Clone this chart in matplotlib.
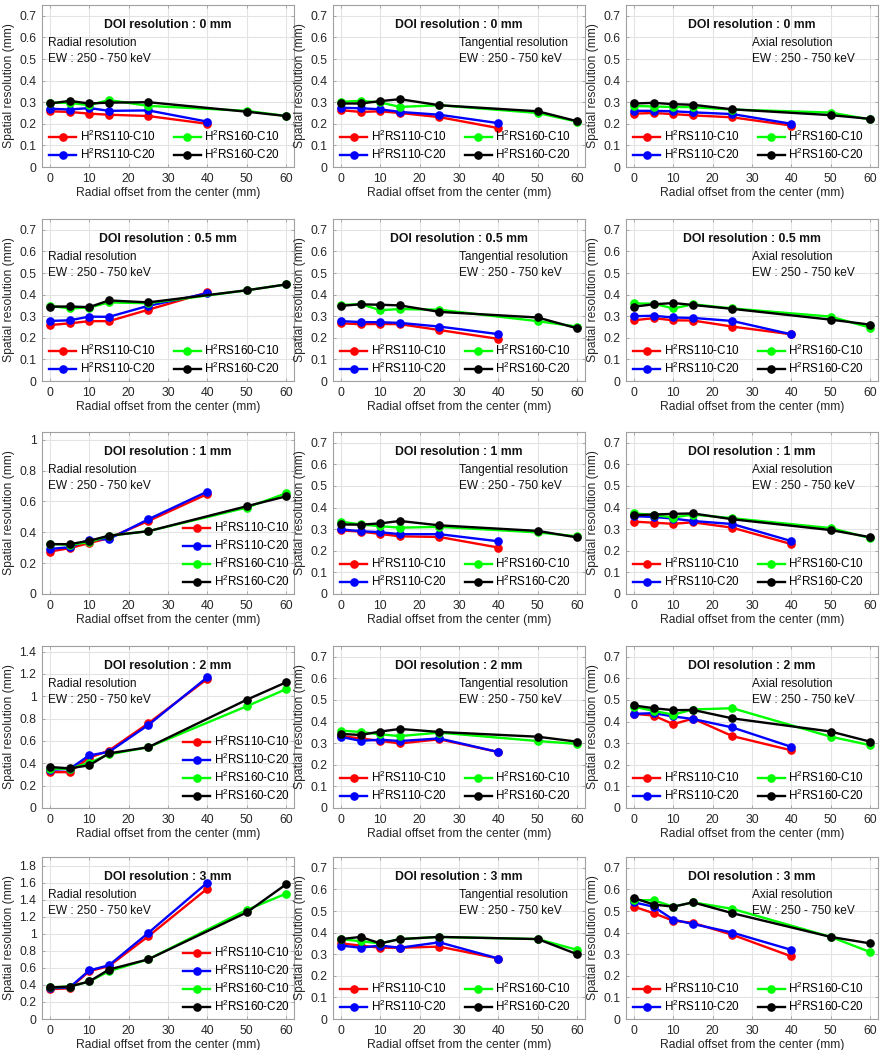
import matplotlib
matplotlib.use("Agg")
import matplotlib.pyplot as plt

plt.rcParams['font.family'] = ['Liberation Sans', 'DejaVu Sans']
plt.rcParams['mathtext.fontset'] = 'custom'
plt.rcParams['mathtext.rm'] = 'Liberation Sans'
plt.rcParams['mathtext.it'] = 'Liberation Sans:italic'
plt.rcParams['mathtext.bf'] = 'Liberation Sans:bold'

# ---------------- data ----------------
x_h110 = [0, 5, 10, 15, 25, 40]
x_h160 = [0, 5, 10, 15, 25, 50, 60]
series_labels = [r'H$^2$RS110-C10', r'H$^2$RS110-C20', r'H$^2$RS160-C10', r'H$^2$RS160-C20']
doi_values = ['0', '0.5', '1', '2', '3']
res_names = ['Radial', 'Tangential', 'Axial']

# DOI 0 mm
rad_d0_110c10 = [0.258, 0.255, 0.247, 0.242, 0.236, 0.200]
rad_d0_110c20 = [0.270, 0.266, 0.273, 0.260, 0.262, 0.210]
rad_d0_160c10 = [0.298, 0.297, 0.286, 0.310, 0.283, 0.260, 0.236]
rad_d0_160c20 = [0.294, 0.306, 0.294, 0.298, 0.300, 0.256, 0.236]
tan_d0_110c10 = [0.263, 0.255, 0.258, 0.250, 0.231, 0.180]
tan_d0_110c20 = [0.274, 0.272, 0.267, 0.255, 0.242, 0.203]
tan_d0_160c10 = [0.302, 0.306, 0.299, 0.278, 0.286, 0.250, 0.210]
tan_d0_160c20 = [0.294, 0.294, 0.305, 0.314, 0.286, 0.258, 0.212]
axi_d0_110c10 = [0.247, 0.250, 0.245, 0.239, 0.230, 0.192]
axi_d0_110c20 = [0.260, 0.260, 0.258, 0.253, 0.245, 0.200]
axi_d0_160c10 = [0.283, 0.280, 0.278, 0.277, 0.266, 0.252, 0.220]
axi_d0_160c20 = [0.294, 0.297, 0.291, 0.288, 0.267, 0.240, 0.223]

# DOI 0.5 mm
rad_d05_110c10 = [0.259, 0.267, 0.277, 0.277, 0.330, 0.410]
rad_d05_110c20 = [0.278, 0.281, 0.298, 0.297, 0.348, 0.406]
rad_d05_160c10 = [0.348, 0.336, 0.340, 0.364, 0.360, 0.420, 0.447]
rad_d05_160c20 = [0.344, 0.345, 0.342, 0.373, 0.364, 0.420, 0.447]
tan_d05_110c10 = [0.267, 0.263, 0.264, 0.263, 0.236, 0.195]
tan_d05_110c20 = [0.277, 0.273, 0.272, 0.269, 0.252, 0.217]
tan_d05_160c10 = [0.352, 0.356, 0.328, 0.333, 0.330, 0.277, 0.252]
tan_d05_160c20 = [0.348, 0.355, 0.353, 0.350, 0.320, 0.294, 0.244]
axi_d05_110c10 = [0.281, 0.291, 0.281, 0.280, 0.252, 0.216]
axi_d05_110c20 = [0.300, 0.302, 0.294, 0.292, 0.278, 0.216]
axi_d05_160c10 = [0.359, 0.358, 0.336, 0.355, 0.336, 0.298, 0.247]
axi_d05_160c20 = [0.344, 0.355, 0.361, 0.352, 0.334, 0.284, 0.261]

# DOI 1 mm
rad_d1_110c10 = [0.275, 0.297, 0.330, 0.363, 0.473, 0.648]
rad_d1_110c20 = [0.292, 0.303, 0.352, 0.356, 0.484, 0.664]
rad_d1_160c10 = [0.325, 0.319, 0.336, 0.378, 0.407, 0.560, 0.653]
rad_d1_160c20 = [0.323, 0.323, 0.345, 0.378, 0.407, 0.569, 0.633]
tan_d1_110c10 = [0.294, 0.289, 0.278, 0.267, 0.264, 0.215]
tan_d1_110c20 = [0.299, 0.291, 0.286, 0.277, 0.277, 0.244]
tan_d1_160c10 = [0.335, 0.322, 0.314, 0.307, 0.311, 0.285, 0.267]
tan_d1_160c20 = [0.322, 0.321, 0.327, 0.338, 0.318, 0.292, 0.262]
axi_d1_110c10 = [0.335, 0.330, 0.325, 0.332, 0.307, 0.231]
axi_d1_110c20 = [0.360, 0.357, 0.349, 0.338, 0.324, 0.245]
axi_d1_160c10 = [0.373, 0.366, 0.354, 0.368, 0.351, 0.305, 0.259]
axi_d1_160c20 = [0.365, 0.368, 0.371, 0.373, 0.346, 0.296, 0.263]

# DOI 2 mm
rad_d2_110c10 = [0.321, 0.321, 0.450, 0.514, 0.758, 1.156]
rad_d2_110c20 = [0.342, 0.349, 0.471, 0.502, 0.743, 1.171]
rad_d2_160c10 = [0.352, 0.352, 0.404, 0.480, 0.544, 0.911, 1.064]
rad_d2_160c20 = [0.367, 0.355, 0.382, 0.489, 0.544, 0.969, 1.125]
tan_d2_110c10 = [0.333, 0.322, 0.311, 0.299, 0.318, 0.259]
tan_d2_110c20 = [0.329, 0.311, 0.316, 0.310, 0.322, 0.259]
tan_d2_160c10 = [0.358, 0.352, 0.341, 0.333, 0.349, 0.310, 0.297]
tan_d2_160c20 = [0.343, 0.338, 0.354, 0.366, 0.352, 0.330, 0.307]
axi_d2_110c10 = [0.436, 0.428, 0.388, 0.414, 0.333, 0.267]
axi_d2_110c20 = [0.436, 0.439, 0.424, 0.412, 0.373, 0.283]
axi_d2_160c10 = [0.469, 0.450, 0.432, 0.456, 0.462, 0.330, 0.291]
axi_d2_160c20 = [0.475, 0.462, 0.453, 0.454, 0.415, 0.354, 0.307]

# DOI 3 mm
rad_d3_110c10 = [0.35, 0.36, 0.56, 0.62, 0.97, 1.53]
rad_d3_110c20 = [0.36, 0.37, 0.57, 0.63, 1.01, 1.60]
rad_d3_160c10 = [0.37, 0.38, 0.44, 0.56, 0.70, 1.28, 1.47]
rad_d3_160c20 = [0.37, 0.38, 0.44, 0.58, 0.70, 1.25, 1.58]
tan_d3_110c10 = [0.35, 0.34, 0.33, 0.33, 0.335, 0.28]
tan_d3_110c20 = [0.34, 0.33, 0.34, 0.33, 0.355, 0.28]
tan_d3_160c10 = [0.37, 0.36, 0.35, 0.37, 0.38, 0.37, 0.32]
tan_d3_160c20 = [0.37, 0.38, 0.35, 0.37, 0.38, 0.37, 0.30]
axi_d3_110c10 = [0.52, 0.49, 0.455, 0.445, 0.39, 0.29]
axi_d3_110c20 = [0.54, 0.52, 0.46, 0.44, 0.40, 0.32]
axi_d3_160c10 = [0.55, 0.55, 0.52, 0.54, 0.51, 0.38, 0.31]
axi_d3_160c20 = [0.56, 0.53, 0.52, 0.54, 0.49, 0.38, 0.35]

grid_values = [
    [[rad_d0_110c10, rad_d0_110c20, rad_d0_160c10, rad_d0_160c20],
     [tan_d0_110c10, tan_d0_110c20, tan_d0_160c10, tan_d0_160c20],
     [axi_d0_110c10, axi_d0_110c20, axi_d0_160c10, axi_d0_160c20]],
    [[rad_d05_110c10, rad_d05_110c20, rad_d05_160c10, rad_d05_160c20],
     [tan_d05_110c10, tan_d05_110c20, tan_d05_160c10, tan_d05_160c20],
     [axi_d05_110c10, axi_d05_110c20, axi_d05_160c10, axi_d05_160c20]],
    [[rad_d1_110c10, rad_d1_110c20, rad_d1_160c10, rad_d1_160c20],
     [tan_d1_110c10, tan_d1_110c20, tan_d1_160c10, tan_d1_160c20],
     [axi_d1_110c10, axi_d1_110c20, axi_d1_160c10, axi_d1_160c20]],
    [[rad_d2_110c10, rad_d2_110c20, rad_d2_160c10, rad_d2_160c20],
     [tan_d2_110c10, tan_d2_110c20, tan_d2_160c10, tan_d2_160c20],
     [axi_d2_110c10, axi_d2_110c20, axi_d2_160c10, axi_d2_160c20]],
    [[rad_d3_110c10, rad_d3_110c20, rad_d3_160c10, rad_d3_160c20],
     [tan_d3_110c10, tan_d3_110c20, tan_d3_160c10, tan_d3_160c20],
     [axi_d3_110c10, axi_d3_110c20, axi_d3_160c10, axi_d3_160c20]],
]

# ---------------- style ----------------
colors = ['#ff0000', '#0000ff', '#00ff00', '#000000']
x_series = [x_h110, x_h110, x_h160, x_h160]

W, H = 885, 1050
fig = plt.figure(figsize=(W / 100, H / 100), dpi=100)

col_left = [42, 333, 626]
ax_w = 252
row_top = [5, 219, 432, 646, 857]
ax_h = 162


def ylims(r, c):
    if c == 0 and r == 2:
        return 1.05, [0, 0.2, 0.4, 0.6, 0.8, 1.0], ['0', '0.2', '0.4', '0.6', '0.8', '1']
    if c == 0 and r == 3:
        return 1.45, [0, 0.2, 0.4, 0.6, 0.8, 1.0, 1.2, 1.4], ['0', '0.2', '0.4', '0.6', '0.8', '1', '1.2', '1.4']
    if c == 0 and r == 4:
        return 1.9, [0, 0.2, 0.4, 0.6, 0.8, 1.0, 1.2, 1.4, 1.6, 1.8], ['0', '0.2', '0.4', '0.6', '0.8', '1', '1.2', '1.4', '1.6', '1.8']
    t = [0, 0.1, 0.2, 0.3, 0.4, 0.5, 0.6, 0.7]
    return 0.75, t, ['0', '0.1', '0.2', '0.3', '0.4', '0.5', '0.6', '0.7']


tick_color = '#262626'
spine_color = '#a0a0a0'

for r in range(5):
    for c in range(3):
        left = col_left[c] / W
        bottom = 1 - (row_top[r] + ax_h) / H
        ax = fig.add_axes([left, bottom, ax_w / W, ax_h / H])
        vals = grid_values[r][c]
        for k in range(4):
            ax.plot(x_series[k], vals[k], '-o', color=colors[k], lw=1.7, ms=5.2,
                    label=series_labels[k], zorder=3)
        ymax, yt, ytl = ylims(r, c)
        ax.set_xlim(-2, 62)
        ax.set_ylim(0, ymax)
        ax.set_xticks([0, 10, 20, 30, 40, 50, 60])
        ax.set_yticks(yt)
        ax.set_yticklabels(ytl)
        ax.grid(True, color='#e3e3e3', lw=0.8)
        ax.set_axisbelow(True)
        for s in ax.spines.values():
            s.set_color(spine_color)
            s.set_linewidth(0.8)
        ax.tick_params(direction='in', length=2.5, width=0.6, color=spine_color,
                       labelcolor=tick_color, labelsize=8.8, pad=4,
                       top=True, right=True)
        ax.set_xlabel('Radial offset from the center (mm)', fontsize=8.7, color=tick_color, labelpad=2)
        ax.set_ylabel('Spatial resolution (mm)', fontsize=8.7, color=tick_color, labelpad=3)
        ax.text(0.5, 0.875, 'DOI resolution : %s mm' % doi_values[r], transform=ax.transAxes,
                ha='center', va='center', fontsize=8.8, fontweight='bold', color='#111111')
        note = '%s resolution\nEW : 250 - 750 keV' % res_names[c]
        xt = 0.025 if c == 0 else 0.5
        ax.text(xt, 0.80, note, transform=ax.transAxes, ha='left', va='top',
                fontsize=8.6, color='#111111', linespacing=1.45)
        if c == 0 and r >= 2:
            ax.legend(loc='lower right', ncol=1, frameon=False, fontsize=8.4,
                      handlelength=2.3, handletextpad=0.3, labelspacing=0.25,
                      borderaxespad=0.2, borderpad=0.2)
        else:
            ax.legend(loc='lower left', ncol=2, frameon=False, fontsize=8.4,
                      handlelength=2.3, handletextpad=0.3, labelspacing=0.25,
                      columnspacing=1.6, borderaxespad=0.2, borderpad=0.2,
                      bbox_to_anchor=(0.01, 0.0))

fig.savefig('out.png', dpi=100)
